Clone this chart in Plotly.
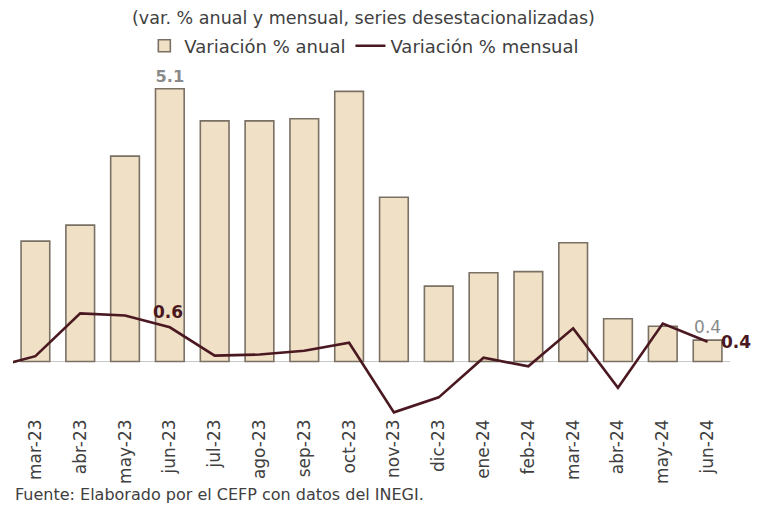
import plotly.graph_objects as go

categories = ["mar-23", "abr-23", "may-23", "jun-23", "jul-23", "ago-23", "sep-23", "oct-23",
              "nov-23", "dic-23", "ene-24", "feb-24", "mar-24", "abr-24", "may-24", "jun-24"]
anual = [2.25, 2.55, 3.84, 5.1, 4.5, 4.5, 4.54, 5.05, 3.07, 1.41, 1.66, 1.68, 2.22, 0.80, 0.66, 0.4]
mensual = [0.10, 0.90, 0.86, 0.64, 0.11, 0.13, 0.20, 0.35, -0.95, -0.67, 0.07, -0.09, 0.62, -0.49, 0.71, 0.37]
mensual_prev = -0.12  # feb-23, only partly visible at the left edge

anual_labels = ["", "", "", "<b>5.1</b>", "", "", "", "", "", "", "", "", "", "", "", "0.4"]
mensual_labeled = {3: "0.6", 15: "0.4"}

xs = list(range(len(categories)))
FONT = "DejaVu Sans"
MAROON = "#4A1820"

fig = go.Figure()
fig.add_trace(go.Bar(
    x=xs, y=anual, name="Variación % anual", width=0.64,
    marker=dict(color="#F0E0C5", line=dict(color="#7A7064", width=1.6)),
    text=anual_labels, textposition="outside", cliponaxis=False,
    textfont=dict(family=FONT, size=17, color="#8A8A8A"),
))
fig.add_trace(go.Scatter(
    x=[-1] + xs, y=[mensual_prev] + mensual, name="Variación % mensual",
    mode="lines", line=dict(color=MAROON, width=2.6),
))

annotations = [
    dict(text="(var. % anual y mensual, series desestacionalizadas)", xref="paper", yref="paper",
         x=0.489, y=1.0, yshift=44, showarrow=False, xanchor="center", yanchor="middle",
         font=dict(size=17.5, color="#404040", family=FONT)),
    dict(text="Fuente: Elaborado por el CEFP con datos del INEGI.", xref="paper", yref="paper",
         x=0, y=0, yshift=-79, showarrow=False, xanchor="left", yanchor="middle",
         font=dict(size=16, color="#404040", family=FONT)),
]
for i, lab in mensual_labeled.items():
    if i == 15:
        annotations.append(dict(text="<b>%s</b>" % lab, x=i, y=mensual[i], xref="x", yref="y",
                                showarrow=False, xanchor="left", yanchor="middle", xshift=11, yshift=0,
                                font=dict(size=17, color=MAROON, family=FONT)))
    else:
        annotations.append(dict(text="<b>%s</b>" % lab, x=i, y=mensual[i], xref="x", yref="y",
                                showarrow=False, xanchor="center", yanchor="bottom", xshift=-2, yshift=3,
                                font=dict(size=17, color=MAROON, family=FONT)))

# page body has an 8px margin, so the figure is sized and offset for that
fig.update_layout(
    width=752, height=498,
    margin=dict(l=5, r=30, t=54, b=91, autoexpand=False),
    paper_bgcolor="white", plot_bgcolor="white",
    font=dict(family=FONT, color="#404040"),
    showlegend=True,
    legend=dict(orientation="h", x=0.49, xanchor="center", y=1.045, yanchor="middle",
                font=dict(size=18, color="#404040"), itemwidth=30,
                traceorder="normal", bgcolor="rgba(0,0,0,0)"),
    annotations=annotations,
)
fig.update_xaxes(range=[-0.5, 15.5], tickmode="array", tickvals=xs, ticktext=categories,
                 tickangle=-90, tickfont=dict(size=17, color="#404040", family=FONT),
                 showgrid=False, showline=False, ticks="", zeroline=False, automargin=False)
fig.update_yaxes(range=[-1.0, 5.6], showticklabels=False, showgrid=False, ticks="",
                 zeroline=True, zerolinecolor="#C8C8C8", zerolinewidth=1.2, showline=False,
                 automargin=False)

fig.write_html("out.html")
